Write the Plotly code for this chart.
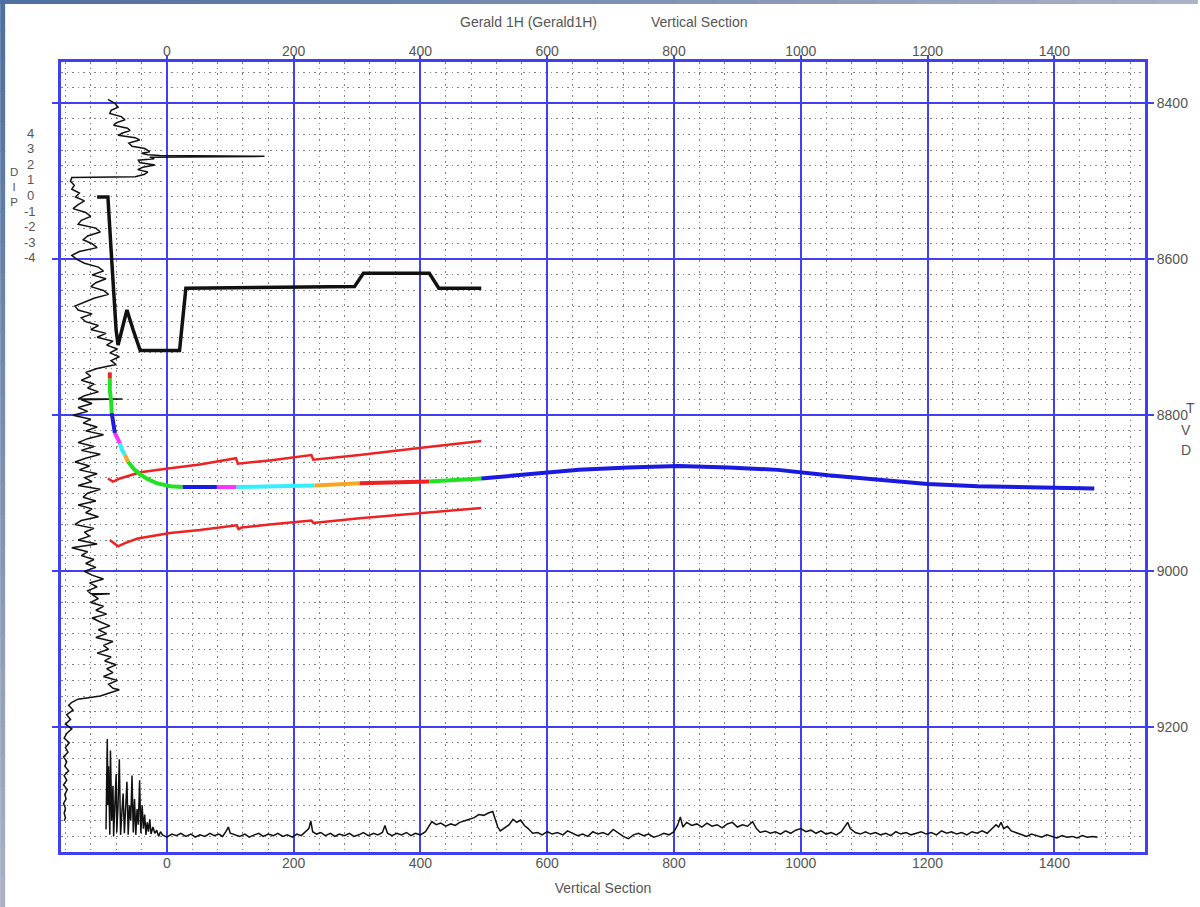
import plotly.graph_objects as go

# ---------------- data (Vertical Section, TVD) ----------------
# Well trajectory, split in coloured segments (survey colouring)
traj_vs = [-90, -90, -90, -88, -87, -85, -82, -79, -74, -71, -66, -61, -52, -42, -30, -16, 5, 25,
           79, 110, 162, 233, 304, 414, 496, 571, 650, 728, 807, 886, 964, 1043, 1122, 1200, 1279, 1373, 1463]
traj_tvd = [8745, 8753, 8768, 8781, 8797, 8806, 8823, 8829, 8836, 8844, 8851, 8860, 8869, 8876, 8882, 8887, 8891, 8892,
            8892, 8892, 8891, 8890, 8887, 8885, 8881, 8876, 8870, 8867, 8865, 8867, 8870, 8877, 8883, 8888, 8891, 8892, 8894]
# (colour, first index, last index) of each trajectory segment
traj_segments = [
    ("#ee2222", 0, 1), ("#22e022", 1, 4), ("#1a1ae0", 4, 6), ("#ff33ff", 6, 8),
    ("#33eeff", 8, 10), ("#f5a623", 10, 11), ("#22e022", 11, 17), ("#1a1ae0", 17, 18),
    ("#ff33ff", 18, 19), ("#33eeff", 19, 21), ("#f5a623", 21, 22), ("#ee2222", 22, 23),
    ("#22e022", 23, 24), ("#1a1ae0", 24, 36),
]

# Formation tops (red)
top1_vs = [-93, -85, -74, -58, -42, 5, 52, 109, 112, 162, 228, 231, 304, 398, 496]
top1_tvd = [8881, 8885, 8881, 8877, 8873, 8868, 8863, 8855, 8862, 8858, 8851, 8857, 8851, 8842, 8833]
top2_vs = [-90, -77, -66, -46, 5, 52, 110, 113, 118, 162, 228, 231, 304, 398, 496]
top2_tvd = [8960, 8968, 8964, 8958, 8951, 8947, 8941, 8946, 8944, 8940, 8935, 8938, 8932, 8926, 8919]

# Dip profile (thick black)
dip_vs = [-110, -93, -87, -80, -77, -71, -63, -53, -42, 20, 30, 296, 310, 414, 429, 496]
dip_tvd = [8520, 8520, 8601, 8691, 8710, 8691, 8665, 8691, 8717, 8717, 8637, 8635, 8618, 8618, 8637, 8637]

# Offset gamma-ray log plotted down the TVD axis
gr_v_tvd = [8395, 8400, 8405, 8409, 8413, 8417, 8421, 8425, 8428, 8432, 8435, 8438, 8441, 8444, 8447, 8451,
            8455, 8458, 8462, 8464, 8466, 8467, 8468, 8469, 8471, 8473, 8476, 8479, 8482, 8485, 8488, 8491,
            8494, 8495,
            8500, 8505, 8510, 8515, 8520, 8525, 8530, 8535, 8540, 8545, 8550, 8555, 8560, 8565, 8570, 8575,
            8580, 8585, 8590, 8595, 8600, 8605, 8610, 8615, 8620, 8625, 8630, 8635, 8640, 8645, 8650, 8655,
            8660, 8665, 8670, 8675, 8680, 8685, 8690, 8695, 8700, 8705, 8710, 8715, 8720, 8725, 8730, 8735,
            8740, 8745, 8750, 8755, 8760, 8765, 8770, 8775, 8779, 8779, 8780, 8785, 8790, 8795, 8800, 8805,
            8810, 8815, 8820, 8825, 8830, 8835, 8840, 8845, 8850, 8855, 8860, 8865, 8870, 8875, 8880, 8885,
            8890, 8895, 8900, 8905, 8910, 8915, 8920, 8925, 8930, 8935, 8940, 8945, 8950, 8955, 8960, 8965,
            8970, 8975, 8980, 8985, 8990, 8995, 9000, 9005, 9010, 9015, 9020, 9025, 9029, 9029, 9030, 9035,
            9040, 9045, 9050, 9055, 9060, 9065, 9070, 9075, 9080, 9085, 9090, 9095, 9100, 9105, 9110, 9115,
            9120, 9125, 9130, 9135, 9140, 9145, 9150, 9152, 9156, 9160, 9164, 9168,
            9172, 9178, 9184, 9190, 9196, 9202, 9208, 9214, 9220, 9226, 9232, 9238, 9244, 9250, 9256, 9262,
            9268, 9274, 9280, 9286, 9292, 9298, 9304, 9310, 9316, 9320]
gr_v_vs = [-93, -82, -77, -88, -90, -72, -66, -80, -84, -62, -58, -70, -77, -50, -43, -60,
           -55, -35, -27, -40, -30, -11, 154, -27, -20, -45, -43, -19, -38, -46, -30, -35,
           -50, -150,
           -152, -146, -150, -138, -144, -130, -140, -148, -128, -120, -135, -140, -112, -105, -125, -132,
           -118, -110, -138, -150, -142, -130, -108, -100, -118, -96, -112, -120, -100, -92, -115, -130,
           -145, -140, -118, -135, -128, -108, -120, -96, -110, -85, -95, -78, -90, -75, -88, -80,
           -110, -128, -120, -135, -115, -125, -108, -130, -140, -70, -135, -118, -140, -125, -148, -120,
           -132, -110, -128, -100, -125, -140, -115, -135, -105, -128, -145, -122, -138, -110, -130, -118,
           -140, -105, -125, -132, -112, -140, -118, -128, -108, -135, -145, -115, -130, -122, -140, -110,
           -150, -125, -135, -115, -128, -112, -130, -118, -100, -122, -110, -125, -120, -90, -118, -108,
           -120, -100, -112, -95, -118, -105, -90, -108, -95, -112, -85, -100, -92, -110, -88, -98,
           -80, -95, -85, -100, -78, -92, -85, -75, -90, -105, -140, -150,
           -155, -148, -158, -152, -160, -150, -158, -162, -154, -160, -156, -163, -158, -161, -155, -162,
           -158, -163, -157, -161, -159, -163, -160, -162, -160, -162]

# Gamma-ray log of the lateral plotted along the bottom
gr_h_vs = [-96, -94, -93, -92, -90, -89, -87, -85, -84, -82, -80, -79, -77, -75, -73, -71, -69, -67, -65, -63,
           -61, -59, -57, -55, -53, -51, -49, -47, -45, -43, -41, -39, -37, -35, -33, -31, -29, -27, -25, -22,
           -19, -16, -13, -10,
           -7, 0, 8, 15, 22, 30, 38, 45, 52, 60, 68, 75, 82, 88, 93, 97, 100, 107, 115, 123, 130, 138, 145, 152,
           160, 168, 175, 183, 190, 198, 205, 212, 218, 224, 227, 230, 236, 243, 250, 258, 265, 272, 280, 288,
           295, 303, 310, 318, 326, 333, 340, 344, 348, 355, 363, 370, 378, 385, 392, 400, 408, 414, 418, 425,
           432, 440, 448, 455, 462, 470, 478, 485, 492, 500, 507, 514, 518, 522, 526, 532, 540, 546, 552, 558,
           564, 570, 577, 585, 592, 600, 608, 616, 625, 632, 640, 648, 656, 664, 672, 680, 688, 696, 704, 712,
           720, 728, 736, 744, 752, 760, 768, 776, 784, 792, 800, 806, 810, 814, 820, 828, 836, 844, 852, 860,
           868, 876, 884, 892, 900, 908, 916, 924, 930, 936, 944, 952, 960, 968, 976, 984, 992, 1000, 1008,
           1016, 1024, 1032, 1040, 1048, 1056, 1064, 1070, 1074, 1078, 1086, 1094, 1102, 1110, 1118, 1126,
           1134, 1142, 1150, 1158, 1166, 1174, 1182, 1190, 1198, 1206, 1214, 1222, 1230, 1238, 1246, 1254,
           1262, 1270, 1278, 1286, 1294, 1302, 1308, 1312, 1316, 1320, 1326, 1332, 1340, 1348, 1356, 1364,
           1372, 1380, 1388, 1396, 1404, 1412, 1420, 1428, 1436, 1444, 1452, 1460, 1468]
gr_h_tvd = [9331, 9215, 9300, 9250, 9338, 9230, 9320, 9275, 9340, 9290, 9260, 9335, 9300, 9241, 9338, 9310,
            9285, 9336, 9295, 9270, 9338, 9300, 9320, 9262, 9335, 9292, 9338, 9305, 9325, 9268, 9336, 9300,
            9330, 9312, 9338, 9322, 9334, 9318, 9337, 9328, 9336, 9332, 9340, 9334,
            9338, 9341, 9337, 9339, 9336, 9340, 9337, 9341, 9338, 9340, 9336, 9339, 9337, 9340, 9334, 9328,
            9336, 9338, 9340, 9337, 9341, 9338, 9336, 9340, 9337, 9339, 9336, 9340, 9338, 9341, 9337, 9339,
            9335, 9330, 9320, 9334, 9337, 9335, 9339, 9336, 9340, 9337, 9339, 9336, 9340, 9338, 9335, 9339,
            9336, 9338, 9335, 9326, 9336, 9339, 9336, 9338, 9335, 9339, 9336, 9338, 9334, 9326, 9321, 9325,
            9323, 9327, 9324, 9326, 9322, 9320, 9318, 9316, 9312, 9313, 9310, 9308, 9318, 9328, 9333, 9330,
            9325, 9318, 9322, 9319, 9326, 9330, 9336, 9335, 9338, 9334, 9337, 9335, 9338, 9333, 9336, 9339,
            9337, 9340, 9334, 9337, 9335, 9338, 9331, 9336, 9340, 9343, 9338, 9336, 9339, 9337, 9341, 9339,
            9336, 9338, 9334, 9325, 9315, 9328, 9322, 9326, 9324, 9328, 9323, 9327, 9325, 9329, 9324, 9322,
            9328, 9325, 9327, 9321, 9330, 9335, 9333, 9336, 9334, 9337, 9333, 9336, 9332, 9330, 9334, 9332,
            9336, 9333, 9337, 9335, 9338, 9334, 9326, 9322, 9330, 9335, 9337, 9334, 9337, 9335, 9338, 9336,
            9339, 9334, 9337, 9335, 9338, 9336, 9334, 9337, 9335, 9338, 9333, 9336, 9334, 9337, 9335, 9338,
            9334, 9336, 9333, 9336, 9330, 9325, 9328, 9322, 9330, 9327, 9333, 9335, 9338, 9340, 9337, 9339,
            9341, 9338, 9340, 9342, 9339, 9341, 9340, 9342, 9339, 9341, 9340, 9341]

x_ticks = [0, 200, 400, 600, 800, 1000, 1200, 1400]
y_ticks = [8400, 8600, 8800, 9000, 9200]
dip_scale = ["4", "3", "2", "1", "0", "-1", "-2", "-3", "-4"]

X_RANGE = [-167, 1543]
Y_RANGE = [9360, 8347]

# ---------------- figure ----------------
W, H = 1200, 907
ML, MR, MT, MB = 61, 52, 62, 55
PW, PH = W - ML - MR, H - MT - MB


def pxx(p):
    return (p - ML) / PW


def pxy(p):
    return 1 - (p - MT) / PH


fig = go.Figure()

fig.add_trace(go.Scatter(x=gr_v_vs, y=gr_v_tvd, mode="lines",
                         line=dict(color="#111111", width=1.5), hoverinfo="skip"))
fig.add_trace(go.Scatter(x=gr_h_vs, y=gr_h_tvd, mode="lines",
                         line=dict(color="#111111", width=1.5), hoverinfo="skip"))
fig.add_trace(go.Scatter(x=dip_vs, y=dip_tvd, mode="lines",
                         line=dict(color="#111111", width=3.5), hoverinfo="skip"))
for tv, tt in ((top1_vs, top1_tvd), (top2_vs, top2_tvd)):
    fig.add_trace(go.Scatter(x=tv, y=tt, mode="lines",
                             line=dict(color="#ee2222", width=2.5), hoverinfo="skip"))
for col, a, b in traj_segments:
    fig.add_trace(go.Scatter(x=traj_vs[a:b + 1], y=traj_tvd[a:b + 1], mode="lines",
                             line=dict(color=col, width=4), hoverinfo="skip"))
# invisible trace to anchor the top / right axes
fig.add_trace(go.Scatter(x=[0], y=[8400], xaxis="x2", yaxis="y2", mode="markers",
                         marker=dict(opacity=0), hoverinfo="skip"))

GRID = "#4040f2"
tickfont = dict(family="Liberation Sans, Arial, sans-serif", size=14, color="#555555")
minor_grid = dict(showgrid=True, gridcolor="#808080", griddash="1.5px,4px", gridwidth=1)

fig.update_layout(
    width=W, height=H, showlegend=False,
    paper_bgcolor="white", plot_bgcolor="white",
    margin=dict(l=ML, r=MR, t=MT, b=MB),
    xaxis=dict(range=X_RANGE, tickvals=x_ticks, ticktext=[str(v) for v in x_ticks],
               showgrid=True, gridcolor=GRID, gridwidth=2, zeroline=False,
               showline=True, mirror=True, linecolor=GRID, linewidth=3,
               ticks="", tickfont=tickfont, ticklabelstandoff=-4,
               minor=dict(dtick=40, tick0=0, **minor_grid),
               title=dict(text="Vertical Section", font=tickfont, standoff=14)),
    xaxis2=dict(range=X_RANGE, overlaying="x", side="top", matches="x",
                tickvals=x_ticks, ticktext=[str(v) for v in x_ticks],
                showgrid=False, zeroline=False, showline=False, ticklabelstandoff=-7,
                ticks="outside", ticklen=6, tickwidth=2, tickcolor=GRID, tickfont=tickfont),
    yaxis=dict(range=Y_RANGE, tickvals=y_ticks, showticklabels=False,
               showgrid=True, gridcolor=GRID, gridwidth=2, zeroline=False,
               showline=True, mirror=True, linecolor=GRID, linewidth=3,
               ticks="outside", ticklen=6, tickwidth=2, tickcolor=GRID,
               minor=dict(dtick=20, tick0=8400, **minor_grid)),
    yaxis2=dict(range=Y_RANGE, overlaying="y", side="right", matches="y",
                tickvals=y_ticks, ticktext=[str(v) for v in y_ticks],
                showgrid=False, zeroline=False, showline=False,
                ticks="outside", ticklen=8, tickwidth=2, tickcolor=GRID, tickfont=tickfont),
)

ann_font = dict(family="Liberation Sans, Arial, sans-serif", size=14, color="#555555")
anns = [
    dict(text="Gerald 1H (Gerald1H)", x=pxx(530), y=pxy(22)),
    dict(text="Vertical Section", x=pxx(701), y=pxy(22)),
    dict(text="D<br>I<br>P", x=pxx(14), y=pxy(187), font=dict(ann_font, size=11.5)),
    dict(text="T", x=pxx(1194), y=pxy(408)),
    dict(text="V", x=pxx(1189), y=pxy(430)),
    dict(text="D", x=pxx(1189), y=pxy(450)),
]
for i, s in enumerate(dip_scale):
    anns.append(dict(text=s, x=pxx(30), y=pxy(133 + 15.6 * i), font=dict(ann_font, size=13)))
for a in anns:
    a.setdefault("font", ann_font)
    fig.add_annotation(xref="paper", yref="paper", showarrow=False,
                       xanchor="center", yanchor="middle", **a)

# slide frame: gradient strips on the top and left edges
N = 30
for i in range(N):
    t = i / (N - 1)
    r = int(78 + (170 - 78) * t); g = int(111 + (178 - 111) * t); b = int(159 + (198 - 159) * t)
    fig.add_shape(type="rect", xref="paper", yref="paper", layer="above",
                  x0=pxx(W * i / N), x1=pxx(W * (i + 1) / N + 1), y0=pxy(4), y1=pxy(0),
                  fillcolor=f"rgb({r},{g},{b})", line_width=0)
    r = int(78 + (168 - 78) * t); g = int(111 + (176 - 111) * t); b = int(159 + (196 - 159) * t)
    fig.add_shape(type="rect", xref="paper", yref="paper", layer="above",
                  x0=pxx(0), x1=pxx(5), y0=pxy(H * (i + 1) / N + 1), y1=pxy(H * i / N),
                  fillcolor=f"rgb({r},{g},{b})", line_width=0)

fig.write_html("out.html", config={"displayModeBar": False},
               post_script="document.body.style.margin='0px';document.body.style.overflow='hidden';")
